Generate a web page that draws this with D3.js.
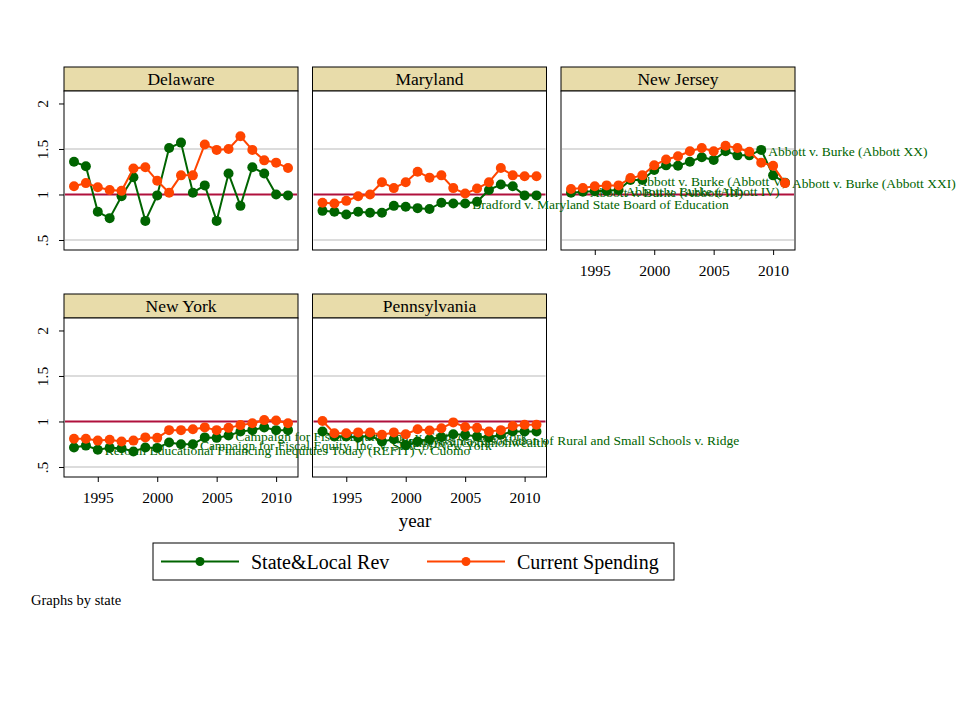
<!DOCTYPE html>
<html>
<head>
<meta charset="utf-8">
<script src="https://cdn.jsdelivr.net/npm/d3@7"></script>
<style>
    body { margin: 0; background: #fff; }
    svg text { font-family: "Liberation Serif", "Times New Roman", serif; }
</style>
</head>
<body>
<svg width="960" height="720"></svg>
<script>
const years = [1993, 1994, 1995, 1996, 1997, 1998, 1999, 2000, 2001, 2002,
               2003, 2004, 2005, 2006, 2007, 2008, 2009, 2010, 2011];
const states = ["Delaware", "Maryland", "New Jersey", "New York", "Pennsylvania"];

// State&Local Rev (green) and Current Spending (orange), one array per state
const revDE   = [1.36, 1.31, 0.81, 0.74, 0.98, 1.19, 0.71, 0.99, 1.51, 1.57, 1.02, 1.10, 0.71, 1.23, 0.875, 1.30, 1.23, 1.00, 0.99];
const spendDE = [1.09, 1.125, 1.08, 1.05, 1.04, 1.285, 1.30, 1.15, 1.02, 1.21, 1.21, 1.55, 1.49, 1.50, 1.64, 1.49, 1.375, 1.35, 1.29];
const revMD   = [0.82, 0.81, 0.78, 0.81, 0.80, 0.80, 0.875, 0.865, 0.85, 0.84, 0.91, 0.90, 0.90, 0.92, 1.05, 1.11, 1.09, 0.99, 0.99];
const spendMD = [0.91, 0.90, 0.93, 0.98, 1.00, 1.135, 1.07, 1.135, 1.25, 1.185, 1.21, 1.07, 1.01, 1.065, 1.135, 1.29, 1.21, 1.20, 1.20];
const revNJ   = [1.02, 1.03, 1.035, 1.04, 1.05, 1.16, 1.16, 1.27, 1.32, 1.315, 1.36, 1.41, 1.38, 1.475, 1.43, 1.43, 1.49, 1.21, 1.13];
const spendNJ = [1.06, 1.07, 1.09, 1.10, 1.10, 1.18, 1.21, 1.32, 1.385, 1.42, 1.475, 1.51, 1.475, 1.535, 1.51, 1.47, 1.35, 1.315, 1.125];
const revNY   = [0.715, 0.735, 0.69, 0.71, 0.705, 0.67, 0.715, 0.71, 0.77, 0.75, 0.75, 0.825, 0.82, 0.845, 0.89, 0.905, 0.935, 0.905, 0.905];
const spendNY = [0.81, 0.81, 0.79, 0.80, 0.78, 0.79, 0.825, 0.82, 0.905, 0.905, 0.915, 0.935, 0.905, 0.93, 0.96, 0.98, 1.015, 1.01, 0.98];
const revPA   = [0.89, 0.835, 0.835, 0.825, 0.845, 0.78, 0.805, 0.74, 0.78, 0.805, 0.83, 0.86, 0.855, 0.835, 0.825, 0.855, 0.89, 0.89, 0.89];
const spendPA = [1.005, 0.87, 0.87, 0.88, 0.88, 0.855, 0.88, 0.86, 0.915, 0.90, 0.925, 0.99, 0.94, 0.93, 0.89, 0.905, 0.95, 0.965, 0.965];

const revByState   = [revDE, revMD, revNJ, revNY, revPA];
const spendByState = [spendDE, spendMD, spendNJ, spendNY, spendPA];

// court case marker labels on the revenue series (dy nudges stacked labels)
const caseLabels = [
    {state: "Maryland",   year: 2005, dy: 1, text: "Bradford v. Maryland State Board of Education"},
    {state: "New Jersey", year: 1994, dy: 1, text: "Abbott v. Burke (Abbott III)"},
    {state: "New Jersey", year: 1997, dy: 1, text: "Abbott v. Burke (Abbott IV)"},
    {state: "New Jersey", year: 1998, dy: 1, text: "Abbott v. Burke (Abbott V)"},
    {state: "New Jersey", year: 2009, dy: 1, text: "Abbott v. Burke (Abbott XX)"},
    {state: "New Jersey", year: 2011, dy: 1, text: "Abbott v. Burke (Abbott XXI)"},
    {state: "New York",   year: 1995, dy: 1, text: "Reform Educational Financing Inequities Today (REFIT) v. Cuomo"},
    {state: "New York",   year: 2003, dy: 1, text: "Campaign for Fiscal Equity, Inc. v. State of New York"},
    {state: "New York",   year: 2006, dy: 1, text: "Campaign for Fiscal Equity, Inc. v. State of New York"},
    {state: "Pennsylvania", year: 1999, dy: 3, text: "Marrero v. Commonwealth"},
    {state: "Pennsylvania", year: 1999, dy: 1, text: "Pennsylvania Association of Rural and Small Schools v. Ridge"}
];

const yTicks = [0.5, 1, 1.5, 2];
const yGrid  = [0.5, 1.5];
const xTicks = [1995, 2000, 2005, 2010];
const seriesNames = ["State&Local Rev", "Current Spending"];

const green = "#006400", orange = "#ff4500", red = "#b0103c";
const panelW = 234, stripH = 24, plotH = 159;
const left0 = 64, top0 = 67, colStep = 248.5, rowStep = 227;

const svg = d3.select("svg");
// layers: panel backgrounds, then case labels, then the series on top
const panelsG = svg.append("g").attr("class", "panels");
const labelsG = svg.append("g").attr("class", "case-labels");
const seriesG = svg.append("g").attr("class", "series");

states.forEach(function(state, i) {
    const col = i % 3, row = Math.floor(i / 3);
    const x0 = left0 + col * colStep;
    const top = top0 + row * rowStep;
    const pTop = top + stripH;

    const x = d3.scaleLinear().domain([1993, 2011]).range([x0 + 10, x0 + panelW - 10]);
    const y = d3.scaleLinear().domain([0.39, 2.137]).range([pTop + plotH, pTop]);

    const rows = years.map((yr, k) => ({year: yr, rev: revByState[i][k], spend: spendByState[i][k]}));

    const g = panelsG.append("g").attr("class", "panel");

    g.append("rect")
        .attr("x", x0).attr("y", top).attr("width", panelW).attr("height", stripH)
        .attr("fill", "#e8dcaa").attr("stroke", "#000").attr("stroke-width", 1);
    g.append("text")
        .attr("x", x0 + panelW / 2).attr("y", top + 18)
        .attr("text-anchor", "middle").attr("font-size", 17.5)
        .text(state);

    g.append("rect")
        .attr("x", x0).attr("y", pTop).attr("width", panelW).attr("height", plotH)
        .attr("fill", "#fff").attr("stroke", "#000").attr("stroke-width", 1);

    g.selectAll("line.grid")
        .data(yGrid)
        .join("line").attr("class", "grid")
        .attr("x1", x0 + 1).attr("x2", x0 + panelW - 1)
        .attr("y1", d => y(d)).attr("y2", d => y(d))
        .attr("stroke", "#dcdcdc").attr("stroke-width", 2);

    g.append("line")
        .attr("x1", x0 + 1).attr("x2", x0 + panelW - 1)
        .attr("y1", y(1)).attr("y2", y(1))
        .attr("stroke", red).attr("stroke-width", 2);

    if (col === 0) {
        const yG = g.append("g")
            .attr("transform", `translate(${[x0, 0]})`)
            .call(d3.axisLeft(y).tickValues(yTicks).tickSize(5)
                .tickFormat(d => d === 0.5 ? ".5" : d3.format("")(d)))
            .attr("font-family", null).attr("font-size", null);
        yG.select(".domain").remove();
        yG.selectAll("text")
            .attr("x", 0).attr("dy", 0)
            .attr("text-anchor", "middle")
            .attr("font-size", 15.5)
            .attr("transform", "translate(-16,0) rotate(-90)");
    }

    // x axis only where no panel sits below
    if (i + 3 >= states.length) {
        const xG = g.append("g")
            .attr("transform", `translate(${[0, pTop + plotH]})`)
            .call(d3.axisBottom(x).tickValues(xTicks).tickSize(5).tickFormat(d3.format("d")))
            .attr("font-family", null).attr("font-size", null);
        xG.select(".domain").remove();
        xG.selectAll("text")
            .attr("y", 26).attr("dy", 0)
            .attr("font-size", 15.5);
    }

    const lineRev = d3.line().x(d => x(d.year)).y(d => y(d.rev));
    const lineSpend = d3.line().x(d => x(d.year)).y(d => y(d.spend));
    const sg = seriesG.append("g");

    sg.append("path").datum(rows)
        .attr("d", lineRev).attr("fill", "none")
        .attr("stroke", green).attr("stroke-width", 2);
    sg.selectAll("circle.rev")
        .data(rows)
        .join("circle").attr("class", "rev")
        .attr("cx", d => x(d.year)).attr("cy", d => y(d.rev))
        .attr("r", 5).attr("fill", green);

    sg.append("path").datum(rows)
        .attr("d", lineSpend).attr("fill", "none")
        .attr("stroke", orange).attr("stroke-width", 2);
    sg.selectAll("circle.spend")
        .data(rows)
        .join("circle").attr("class", "spend")
        .attr("cx", d => x(d.year)).attr("cy", d => y(d.spend))
        .attr("r", 5).attr("fill", orange);

    labelsG.selectAll(null)
        .data(caseLabels.filter(c => c.state === state))
        .join("text").attr("class", "case")
        .attr("x", d => x(d.year) + 7)
        .attr("y", d => y(rows.find(r => r.year === d.year).rev) + d.dy)
        .attr("dy", "0.35em")
        .attr("font-size", 13.5)
        .attr("fill", green)
        .text(d => d.text);
});

svg.append("text")
    .attr("x", 415).attr("y", 527)
    .attr("text-anchor", "middle").attr("font-size", 19)
    .text("year");

const legend = svg.append("g").attr("class", "legend");
legend.append("rect")
    .attr("x", 153).attr("y", 543).attr("width", 521).attr("height", 37)
    .attr("fill", "#fff").attr("stroke", "#000").attr("stroke-width", 1);

legend.selectAll("g.item")
    .data(seriesNames)
    .join("g").attr("class", "item")
    .each(function(d, i) {
        const gx = 161 + i * 266;
        const c = i === 0 ? green : orange;
        d3.select(this).append("line")
            .attr("x1", gx).attr("x2", gx + 78)
            .attr("y1", 561.5).attr("y2", 561.5)
            .attr("stroke", c).attr("stroke-width", 2);
        d3.select(this).append("circle")
            .attr("cx", gx + 39).attr("cy", 561.5).attr("r", 4.5)
            .attr("fill", c);
        d3.select(this).append("text")
            .attr("x", gx + 90).attr("y", 568.5)
            .attr("font-size", 20)
            .text(d);
    });

svg.append("text")
    .attr("x", 31).attr("y", 605)
    .attr("font-size", 14.5)
    .text("Graphs by state");
</script>
</body>
</html>
